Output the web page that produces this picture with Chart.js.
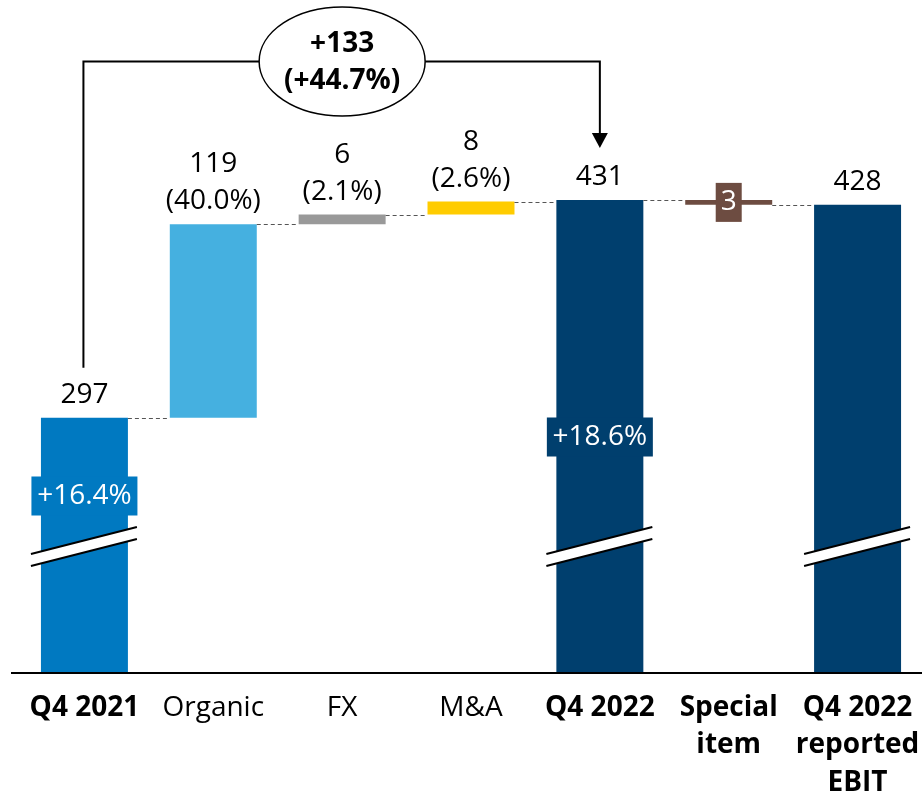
<!DOCTYPE html>
<html>
<head>
<meta charset="utf-8">
<script src="https://cdn.jsdelivr.net/npm/chart.js@4.4.0/dist/chart.umd.min.js"></script>
<style>
  html, body { margin: 0; padding: 0; background: #fff; }
</style>
</head>
<body>
<canvas id="ebitChart" width="922" height="794"></canvas>
<script>
// data
const categories = ['Q4 2021', 'Organic', 'FX', 'M&A', 'Q4 2022', ['Special', 'item'], ['Q4 2022', 'reported', 'EBIT']];
const boldCategory = [true, false, false, false, true, true, true];
const barValues = [297, 119, 6, 8, 431, -3, 428];
const isTotal = [true, false, false, false, true, false, true];
const shareLabels = ['', '(40.0%)', '(2.1%)', '(2.6%)', '', '', ''];
const marginLabels = ['+16.4%', '', '', '', '+18.6%', '', ''];
const bridgeLabel = ['+133', '(+44.7%)'];

const barColors = ['#0079c1', '#45b0e0', '#999999', '#ffcc00', '#003f6e', '#6d4c41', '#003f6e'];
const FONT = '"Open Sans", sans-serif';
const SIZE = 28;

// waterfall: totals start at 0, steps continue from the running total
let running = 0;
const floating = barValues.map((v, i) => {
  if (isTotal[i]) { running = v; return [0, v]; }
  const start = running;
  running = running + v;
  return [start, running];
});

const waterfallExtras = {
  id: 'waterfallExtras',
  afterDatasetsDraw(chart) {
    const ctx = chart.ctx;
    const y = chart.scales.y;
    const area = chart.chartArea;
    const bars = chart.getDatasetMeta(0).data;
    ctx.save();

    // base line
    ctx.strokeStyle = '#000';
    ctx.lineWidth = 2;
    ctx.beginPath();
    ctx.moveTo(11, area.bottom);
    ctx.lineTo(area.right, area.bottom);
    ctx.stroke();

    // dashed connectors
    ctx.setLineDash([4, 3]);
    ctx.lineWidth = 1;
    ctx.strokeStyle = '#555';
    for (let i = 0; i < bars.length - 1; i++) {
      const a = bars[i], b = bars[i + 1];
      const yy = Math.round(y.getPixelForValue(floating[i][1])) + 0.5;
      ctx.beginPath();
      ctx.moveTo(a.x + a.width / 2, yy);
      ctx.lineTo(b.x - b.width / 2, yy);
      ctx.stroke();
    }
    ctx.setLineDash([]);

    // axis break marks on the total bars
    bars.forEach((bar, i) => {
      if (!isTotal[i]) return;
      const xl = bar.x - bar.width / 2 - 10, xr = bar.x + bar.width / 2 + 9;
      const yl = area.bottom - 113, yr = area.bottom - 140;
      ctx.fillStyle = '#fff';
      ctx.beginPath();
      ctx.moveTo(xl, yl - 6); ctx.lineTo(xr, yr - 6);
      ctx.lineTo(xr, yr + 6); ctx.lineTo(xl, yl + 6);
      ctx.closePath();
      ctx.fill();
      ctx.strokeStyle = '#000';
      ctx.lineWidth = 2;
      ctx.beginPath();
      ctx.moveTo(xl, yl - 6); ctx.lineTo(xr, yr - 6);
      ctx.moveTo(xl, yl + 6); ctx.lineTo(xr, yr + 6);
      ctx.stroke();
    });

    ctx.textAlign = 'center';
    ctx.textBaseline = 'middle';

    // margin boxes inside totals
    const marginOffset = { 0: 177, 4: 236 };
    bars.forEach((bar, i) => {
      if (!marginLabels[i]) return;
      const cy = area.bottom - marginOffset[i];
      ctx.fillStyle = barColors[i];
      ctx.fillRect(bar.x - 53, cy - 19.5, 106, 39);
      ctx.fillStyle = '#fff';
      ctx.font = SIZE + 'px ' + FONT;
      ctx.fillText(marginLabels[i], bar.x, cy);
    });

    // value labels above bars
    ctx.fillStyle = '#000';
    ctx.font = SIZE + 'px ' + FONT;
    bars.forEach((bar, i) => {
      const v = barValues[i];
      if (v < 0) return;
      const top = Math.min(bar.y, bar.base);
      const lines = shareLabels[i] ? [String(v), shareLabels[i]] : [String(v)];
      lines.forEach((t, k) => {
        ctx.fillText(t, bar.x, top - 23 - (lines.length - 1 - k) * 37);
      });
    });

    // negative step: value in a box
    bars.forEach((bar, i) => {
      const v = barValues[i];
      if (v >= 0) return;
      const cy = (bar.y + bar.base) / 2;
      ctx.fillStyle = barColors[i];
      ctx.fillRect(bar.x - 13, cy - 19.5, 26, 39);
      ctx.fillStyle = '#fff';
      ctx.font = SIZE + 'px ' + FONT;
      ctx.fillText(String(Math.abs(v)), bar.x, cy);
    });

    // bridge bracket from Q4 2021 to Q4 2022
    const xa = bars[0].x - 1, xb = bars[4].x;
    const cx = bars[2].x, cy = 61.5, rx = 83, ry = 54.5;
    ctx.strokeStyle = '#000';
    ctx.lineWidth = 2;
    ctx.beginPath();
    ctx.moveTo(xa, Math.min(bars[0].y, bars[0].base) - 50);
    ctx.lineTo(xa, cy);
    ctx.lineTo(cx - rx, cy);
    ctx.moveTo(cx + rx, cy);
    ctx.lineTo(xb, cy);
    ctx.lineTo(xb, 136);
    ctx.stroke();
    ctx.fillStyle = '#000';
    ctx.beginPath();
    ctx.moveTo(xb - 8, 133); ctx.lineTo(xb + 8, 133); ctx.lineTo(xb, 148);
    ctx.closePath();
    ctx.fill();

    ctx.fillStyle = '#fff';
    ctx.lineWidth = 1.5;
    ctx.beginPath();
    ctx.ellipse(cx, cy, rx, ry, 0, 0, Math.PI * 2);
    ctx.fill();
    ctx.stroke();
    ctx.fillStyle = '#000';
    ctx.font = 'bold ' + SIZE + 'px ' + FONT;
    ctx.fillText(bridgeLabel[0], cx, 44);
    ctx.fillText(bridgeLabel[1], cx, 81);

    ctx.restore();
  }
};

const ctx = document.getElementById('ebitChart').getContext('2d');
const ebitChart = new Chart(ctx, {
  type: 'bar',
  data: {
    labels: categories,
    datasets: [{
      data: floating,
      backgroundColor: barColors,
      borderWidth: 0,
      barPercentage: 0.675,
      categoryPercentage: 1
    }]
  },
  options: {
    responsive: false,
    devicePixelRatio: 1,
    animation: false,
    layout: { padding: { left: 20, right: 0, top: 0, bottom: 0 } },
    scales: {
      x: {
        grid: { display: false },
        border: { display: false },
        afterFit: (scale) => {
          scale.height = 121;
          scale.paddingLeft = 0;
          scale.paddingRight = 0;
        },
        ticks: {
          color: '#000',
          padding: 8,
          autoSkip: false,
          maxRotation: 0,
          font: (c) => ({
            family: FONT,
            size: SIZE,
            lineHeight: 1.34,
            weight: boldCategory[c.index] ? 'bold' : 'normal'
          })
        }
      },
      y: {
        display: false,
        min: 140,
        max: 554
      }
    },
    plugins: {
      legend: { display: false },
      tooltip: { enabled: false }
    }
  },
  plugins: [waterfallExtras]
});
</script>
</body>
</html>
